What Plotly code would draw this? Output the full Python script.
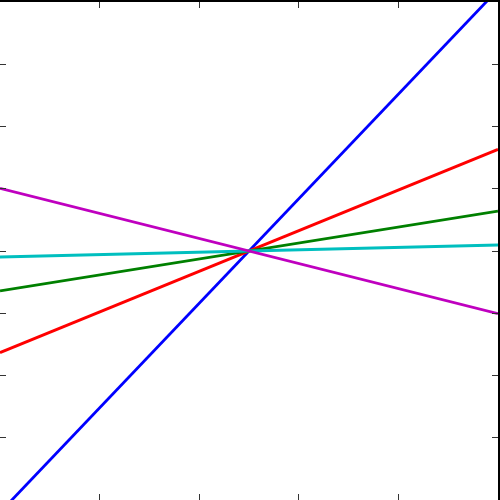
import plotly.graph_objects as go

x_vals = [-1.0, 1.0]
slopes = [1.05, 0.408, 0.16, 0.024, -0.252]
colors = ["rgb(0,0,255)", "rgb(255,0,0)", "rgb(0,128,0)", "rgb(0,191,191)", "rgb(191,0,191)"]
x_ticks = [-0.6, -0.2, 0.2, 0.6]
y_ticks = [-0.75, -0.5, -0.25, 0.0, 0.25, 0.5, 0.75]

fig = go.Figure()
for k, c in zip(slopes, colors):
    fig.add_trace(go.Scatter(x=x_vals, y=[k * xv for xv in x_vals], mode="lines",
                             line=dict(color=c, width=2.8), showlegend=False, hoverinfo="skip"))

axis_common = dict(showgrid=False, zeroline=False, showticklabels=False, ticks="inside",
                   ticklen=6, tickwidth=1, tickcolor="#333", showline=True, linecolor="black",
                   linewidth=2, mirror="ticks")
fig.update_xaxes(range=[-1, 1], tickvals=x_ticks, **axis_common)
fig.update_yaxes(range=[-1, 1], tickvals=y_ticks, **axis_common)
fig.update_layout(width=500, height=500, margin=dict(l=0, r=0, t=0, b=0),
                  plot_bgcolor="white", paper_bgcolor="white")
fig.write_html("out.html", config={"displayModeBar": False, "staticPlot": True},
               post_script="document.body.style.margin='0';document.body.style.overflow='hidden';")
